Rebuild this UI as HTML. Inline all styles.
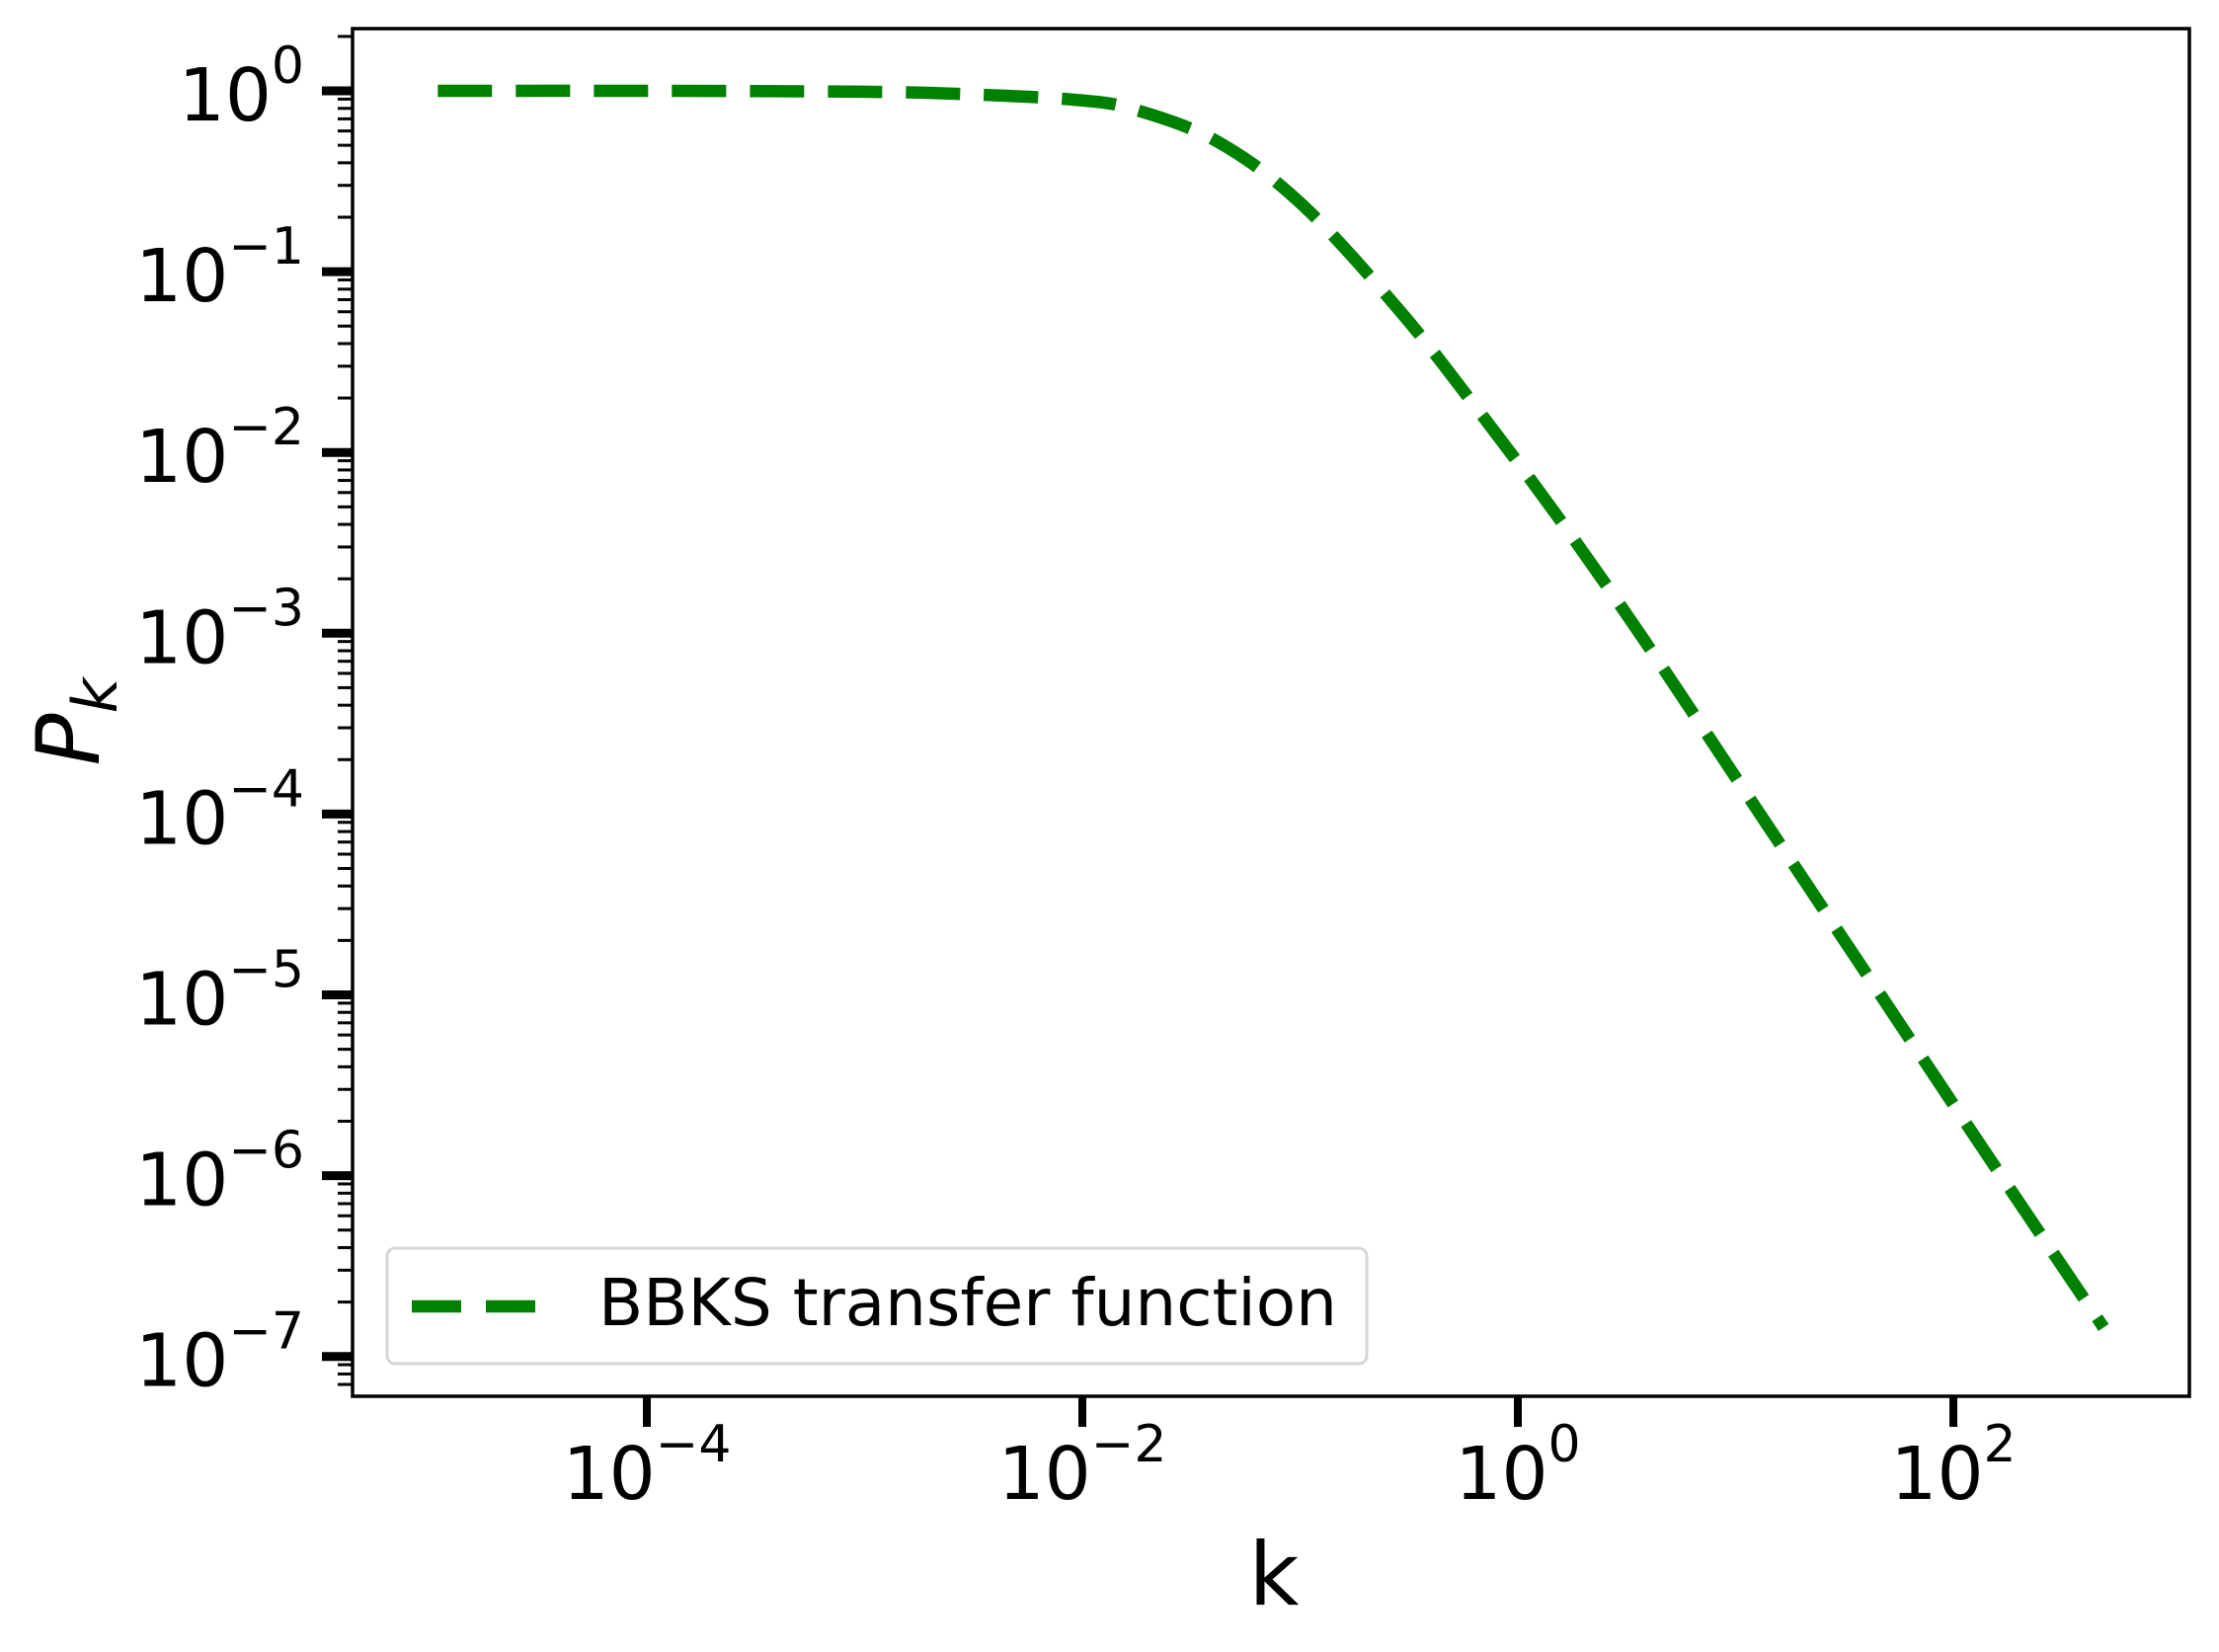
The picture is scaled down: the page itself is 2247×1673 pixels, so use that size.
<!DOCTYPE html>
<html><head><meta charset="utf-8"><style>
html,body{margin:0;padding:0;background:#fff;}
svg{display:block;font-family:"DejaVu Sans","Liberation Sans",sans-serif;}
</style></head><body>
<svg id="chart" width="2247" height="1673" viewBox="0 0 2247 1673" xmlns="http://www.w3.org/2000/svg">
<rect x="357" y="29" width="1860" height="1385" fill="#fff"/>
<g id="yticks"></g>
<g id="xticks"></g>
<path id="curve" fill="none" stroke="#008000" stroke-width="12.5" stroke-dasharray="55,24"/>
<rect x="357" y="29" width="1860" height="1385" fill="none" stroke="#000" stroke-width="3.5"/>
<g>
<rect x="392" y="1264" width="992" height="117" rx="8" fill="#fff" fill-opacity="0.8" stroke="#d6d6d6" stroke-width="3"/>
<line x1="417" y1="1323" x2="542" y2="1323" stroke="#008000" stroke-width="12.5" stroke-dasharray="50,25"/>
<text x="606" y="1342" font-size="66" fill="#000">BBKS transfer function</text>
</g>
<text x="1290" y="1625" font-size="88" text-anchor="middle" fill="#000">k</text>
<text transform="translate(100,731) rotate(-90)" font-size="88" text-anchor="middle" font-style="italic" fill="#000">P<tspan font-size="62" dy="18">k</tspan></text>
</svg>
<script>
const logK = [-4.96, -4, -3, -2.5, -2.03, -1.77, -1.38, -0.99, -0.54, -0.18, 0.18, 0.57, 1.09, 1.61, 2.13, 2.69];
const logP = [0, 0, -0.005, -0.02, -0.05, -0.1, -0.28, -0.63, -1.22, -1.77, -2.35, -3.02, -3.96, -4.90, -5.84, -6.84];
const yTickExps = [0, -1, -2, -3, -4, -5, -6, -7];
const xTickExps = [-4, -2, 0, 2];

const NS = "http://www.w3.org/2000/svg";
const X = lk => 1537 + lk * 220.5;
const Y = lp => 92 - lp * 183.1;

const pts = logK.map((k, i) => [X(k), Y(logP[i])]);
let d = `M${pts[0][0]},${pts[0][1]}`;
for (let i = 0; i < pts.length - 1; i++) {
  const p0 = pts[Math.max(0, i - 1)], p1 = pts[i], p2 = pts[i + 1], p3 = pts[Math.min(pts.length - 1, i + 2)];
  const c1 = [p1[0] + (p2[0] - p0[0]) / 6, p1[1] + (p2[1] - p0[1]) / 6];
  const c2 = [p2[0] - (p3[0] - p1[0]) / 6, p2[1] - (p3[1] - p1[1]) / 6];
  d += ` C${c1[0]},${c1[1]} ${c2[0]},${c2[1]} ${p2[0]},${p2[1]}`;
}
document.getElementById('curve').setAttribute('d', d);

function mk(tag, attrs, parent) {
  const e = document.createElementNS(NS, tag);
  for (const a in attrs) e.setAttribute(a, attrs[a]);
  parent.appendChild(e);
  return e;
}
const yg = document.getElementById('yticks');
for (let e = 1; e >= -8; e--) {
  for (let m = 2; m <= 9; m++) {
    const y = Y(e + Math.log10(m) - 1);
    if (y < 29 || y > 1414) continue;
    const t = mk('line', {x1: 342, x2: 357, y1: y, y2: y, stroke: '#000', 'stroke-width': 3}, yg);
    
    
  }
}
yTickExps.forEach(e => {
  const y = Y(e);
  const t = mk('line', {x1: 326, x2: 357, y1: y, y2: y, stroke: '#000', 'stroke-width': 9}, yg);
  
  
  const tx = mk('text', {x: 308, y: y + 30, 'font-size': 74, 'text-anchor': 'end', fill: '#000'}, yg);
  
  
  tx.innerHTML = `10<tspan font-size="52" dy="-38">${e === 0 ? '0' : '\u2212' + (-e)}</tspan>`;
});
const xg = document.getElementById('xticks');
xTickExps.forEach(e => {
  const x = X(e);
  const t = mk('line', {x1: x, x2: x, y1: 1414, y2: 1445, stroke: '#000', 'stroke-width': 8}, xg);
  
  
  const tx = mk('text', {x: x, y: 1518, 'font-size': 74, 'text-anchor': 'middle', fill: '#000'}, xg);
  
  
  tx.innerHTML = `10<tspan font-size="52" dy="-38">${e < 0 ? '\u2212' + (-e) : e}</tspan>`;
});
</script>
</body></html>
